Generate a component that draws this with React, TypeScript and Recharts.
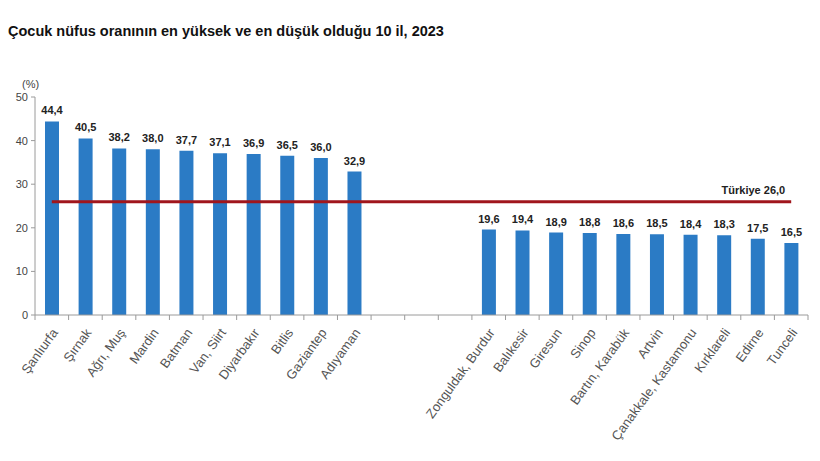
import { Bar, ComposedChart, LabelList, Line, XAxis, YAxis } from "recharts";

const highProvinces = ["Şanlıurfa", "Şırnak", "Ağrı, Muş", "Mardin", "Batman", "Van, Siirt", "Diyarbakır", "Bitlis", "Gaziantep", "Adıyaman"];
const highValues = [44.4, 40.5, 38.2, 38.0, 37.7, 37.1, 36.9, 36.5, 36.0, 32.9];
const lowProvinces = ["Zonguldak, Burdur", "Balıkesir", "Giresun", "Sinop", "Bartın, Karabük", "Artvin", "Çanakkale, Kastamonu", "Kırklareli", "Edirne", "Tunceli"];
const lowValues = [19.6, 19.4, 18.9, 18.8, 18.6, 18.5, 18.4, 18.3, 17.5, 16.5];
const gapSlots = [" ", "  ", "   "];
const turkiyeValue = 26.0;
const yTicks = [0, 10, 20, 30, 40, 50];

const data = [
  ...highProvinces.map((name, i) => ({ name, value: highValues[i], turkiye: turkiyeValue })),
  ...gapSlots.map((name) => ({ name, value: null, turkiye: turkiyeValue })),
  ...lowProvinces.map((name, i) => ({ name, value: lowValues[i], turkiye: turkiyeValue }))
];

const W = 820;
const H = 461;
const PLOT_LEFT = 35;
const PLOT_RIGHT = 808;
const PLOT_TOP = 97;
const PLOT_BOTTOM = 315;
const BAND = (PLOT_RIGHT - PLOT_LEFT) / data.length;
const FONT = "'Liberation Sans', Arial, sans-serif";

const fmt = (v: number) => v.toFixed(1).replace(".", ",");

function CategoryTick(props: any) {
  const { x, payload, index } = props;
  const left = x - BAND / 2;
  const isLast = index === data.length - 1;
  return (
    <g>
      <line x1={left} x2={left} y1={PLOT_BOTTOM} y2={PLOT_BOTTOM + 5} stroke="#9a9a9a" />
      {isLast ? <line x1={x + BAND / 2} x2={x + BAND / 2} y1={PLOT_BOTTOM} y2={PLOT_BOTTOM + 5} stroke="#9a9a9a" /> : null}
      <text
        transform={`translate(${x + 3}, ${PLOT_BOTTOM + 15}) rotate(-54)`}
        textAnchor="end"
        dy="0.35em"
        fontSize={13}
        fontFamily={FONT}
        fill="#555"
      >
        {payload.value.trim()}
      </text>
    </g>
  );
}

function TurkiyeLabel(props: any) {
  const { x, y, index } = props;
  if (index !== data.length - 1) return null;
  return (
    <text x={x - 6} y={y - 8} textAnchor="end" fontSize={11} fontWeight="bold" fontFamily={FONT} fill="#222">
      Türkiye {fmt(turkiyeValue)}
    </text>
  );
}

export default function App() {
  return (
    <div style={{ position: "fixed", left: 0, top: 0, width: W, height: H, background: "#fff", fontFamily: FONT }}>
      <div style={{ position: "absolute", left: 8, top: 23, fontSize: 14.5, fontWeight: "bold", color: "#111" }}>
        Çocuk nüfus oranının en yüksek ve en düşük olduğu 10 il, 2023
      </div>
      <div style={{ position: "absolute", left: 22, top: 78, fontSize: 11, color: "#444" }}>(%)</div>
      <ComposedChart
        width={W}
        height={H}
        data={data}
        margin={{ top: PLOT_TOP, right: W - PLOT_RIGHT, bottom: 36, left: 0 }}
        barCategoryGap={0}
      >
        <XAxis
          dataKey="name"
          interval={0}
          height={H - PLOT_BOTTOM - 36}
          tickLine={false}
          axisLine={{ stroke: "#9a9a9a" }}
          tick={<CategoryTick />}
        />
        <YAxis
          width={PLOT_LEFT}
          domain={[0, 50]}
          ticks={yTicks}
          interval={0}
          tickSize={4}
          tickMargin={3}
          axisLine={{ stroke: "#9a9a9a" }}
          tickLine={{ stroke: "#9a9a9a" }}
          tick={{ fontSize: 11, fill: "#444", fontFamily: FONT }}
        />
        <Bar dataKey="value" fill="#2b7bc5" barSize={14} isAnimationActive={false}>
          <LabelList
            dataKey="value"
            position="top"
            offset={7}
            formatter={(v: any) => (v == null ? "" : fmt(Number(v)))}
            style={{ fontSize: 11, fontWeight: "bold", fill: "#222", fontFamily: FONT }}
          />
        </Bar>
        <Line
          dataKey="turkiye"
          stroke="#a0161c"
          strokeWidth={3}
          dot={false}
          activeDot={false}
          isAnimationActive={false}
          label={<TurkiyeLabel />}
        />
      </ComposedChart>
    </div>
  );
}
